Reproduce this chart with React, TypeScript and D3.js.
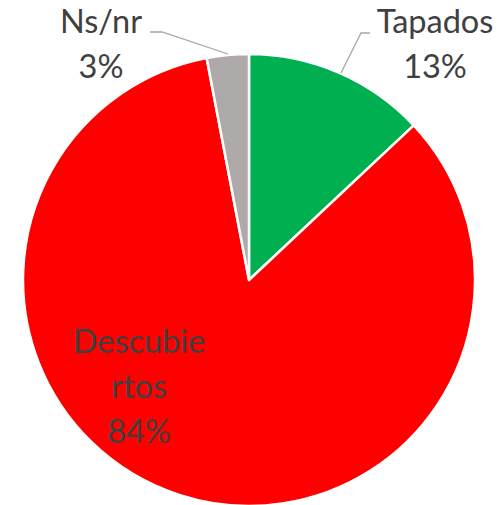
import React, { useEffect, useRef } from "react";
import * as d3 from "d3";

const categories = ["Tapados", "Descubiertos", "Ns/nr"];
const values = [13, 84, 3];
const colors = ["#00B050", "#FF0000", "#AEAAAA"];
// wrapped label lines as they appear in the chart
const labelLines = [["Tapados"], ["Descubie", "rtos"], ["Ns/nr"]];

const width = 503;
const height = 505;

export default function App() {
  const ref = useRef<SVGSVGElement | null>(null);

  useEffect(() => {
    const svg = d3.select(ref.current);
    svg.selectAll("*").remove();

    const cx = 249;
    const cy = 280;
    const r = 226;

    const data = categories.map((c, i) => ({ name: c, value: values[i], i }));
    const pie = d3.pie<any>().value(d => d.value).sort(null);
    const arc = d3.arc<any>().innerRadius(0).outerRadius(r);
    const arcs = pie(data);

    const g = svg.append("g").attr("transform", `translate(${cx},${cy})`);

    g.selectAll("path")
      .data(arcs)
      .enter()
      .append("path")
      .attr("d", arc)
      .attr("fill", d => colors[d.data.i])
      .attr("stroke", "#fff")
      .attr("stroke-width", 2.5)
      .attr("stroke-linejoin", "round");

    // label positions (center x, first baseline y)
    const labelPos = [
      { x: 435, y: 33 },
      { x: 139, y: 353 },
      { x: 101, y: 33 },
    ];

    // leader lines
    const leaders = [
      [[370, 33], [361, 33], [341, 73]],
      [],
      [[150, 32], [162, 32], [228, 54]],
    ];
    leaders.forEach(pts => {
      if (!pts.length) return;
      svg.append("path")
        .attr("d", d3.line()(pts as [number, number][]))
        .attr("fill", "none")
        .attr("stroke", "#A6A6A6")
        .attr("stroke-width", 1.3);
    });

    arcs.forEach((a, i) => {
      const lines = [...labelLines[i], `${values[i]}%`];
      const t = svg.append("text")
        .attr("x", labelPos[i].x)
        .attr("y", labelPos[i].y)
        .attr("text-anchor", "middle")
        .attr("font-family", "Lato, 'Open Sans', sans-serif")
        .attr("font-size", 32.5)
        .attr("fill", "#404040");
      lines.forEach((ln, k) => {
        t.append("tspan")
          .attr("x", labelPos[i].x)
          .attr("dy", k === 0 ? 0 : 45)
          .text(ln);
      });
    });
  }, []);

  return (
    <svg
      ref={ref}
      width={width}
      height={height}
      style={{ position: "absolute", left: 0, top: 0, background: "#fff" }}
    />
  );
}
